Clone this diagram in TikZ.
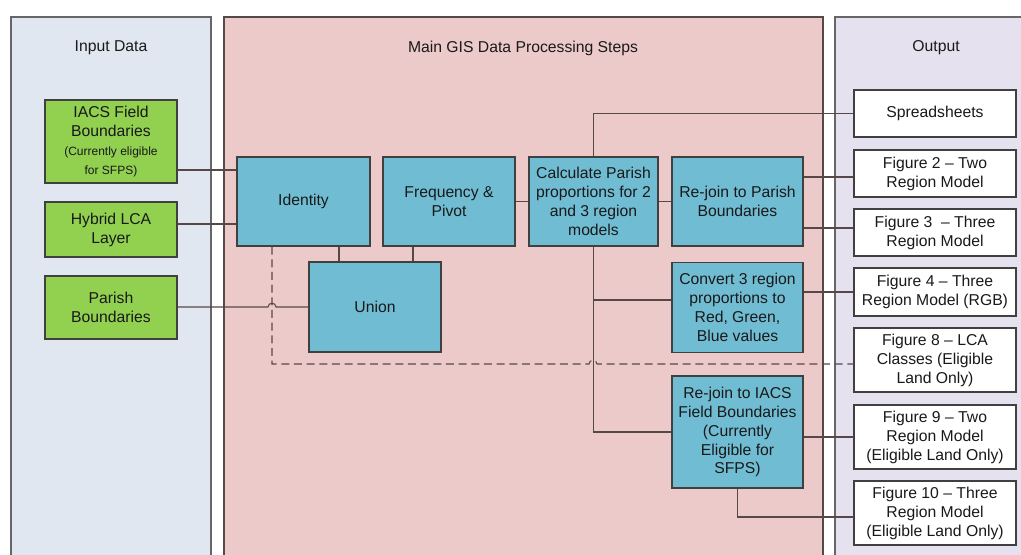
\documentclass[tikz,border=0pt]{standalone}
\usepackage{fontspec}
\setmainfont{Liberation Sans}

\definecolor{inputbg}{HTML}{E1E7F0}
\definecolor{mainbg}{HTML}{EDCACA}
\definecolor{outbg}{HTML}{E6E1EF}
\definecolor{datagreen}{HTML}{92D050}
\definecolor{stepblue}{HTML}{70BDD3}
\definecolor{edgegray}{HTML}{404040}
\definecolor{linegray}{HTML}{574848}

\tikzset{
  sz/.style 2 args={minimum width=#1*0.75pt, minimum height=#2*0.75pt},
  box/.style={draw=edgegray, line width=0.9pt, inner sep=0pt, align=center,
              font=\fontsize{11.8}{14.2}\selectfont, text=black!90},
  inbox/.style={box, fill=datagreen},
  stepbox/.style={box, fill=stepblue},
  outbox/.style={box, fill=white},
  link/.style={draw=linegray, line width=0.8pt},
  panel/.style={line width=1pt},
  title/.style={font=\fontsize{11.8}{14.2}\selectfont, text=black!90},
  small/.style={font=\fontsize{10}{13.7}\selectfont}
}

\begin{document}
\begin{tikzpicture}[x=0.75pt,y=-0.75pt]

				\useasboundingbox (0,0) rectangle (1021,554);
				
				% panels
				\fill[white] (0,0) rectangle (1021,554);
				\fill[inputbg] (11,17) rectangle (211,600);
				\fill[mainbg] (224,17) rectangle (823,600);
				\fill[outbg] (835,17) rectangle (1040,600);
				\draw[panel, draw=gray!80!black] (11,600) -- (11,17) -- (211,17) -- (211,600);
				\draw[panel, draw=linegray] (224,600) -- (224,17) -- (823,17) -- (823,600);
				\draw[panel, draw=gray!80!black] (835,600) -- (835,17) -- (1040,17);
				
				\node[title] (inTitle) at (111,48) {Input Data};
				\node[title] (mainTitle) at (523,48) {Main GIS Data Processing Steps};
				\node[title] (outTitle) at (936,48) {Output};
				
				% input data
				\node[inbox, sz={132}{83}] (iacs) at (111,141.5) {IACS Field\\Boundaries\\{\small(Currently eligible}\\{\small for SFPS)}};
				\node[inbox, sz={132}{55}] (hybrid) at (111,229.5) {Hybrid LCA\\Layer};
				\node[inbox, sz={132}{63}] (parish) at (111,307.5) {Parish\\Boundaries};
				
				% processing steps
				\node[stepbox, sz={133}{89}] (identity) at (303.5,201.5) {Identity};
				\node[stepbox, sz={132}{89}] (freq) at (449,201.5) {Frequency \&\\Pivot};
				\node[stepbox, sz={132}{90}] (union) at (375,307) {Union};
				\node[stepbox, sz={129}{89}] (calc) at (593.5,201.5) {Calculate Parish\\proportions for 2\\and 3 region\\models};
				\node[stepbox, sz={131}{89}] (rejoinP) at (737.5,201.5) {Re-join to Parish\\Boundaries};
				\node[stepbox, sz={131}{90}] (convert) at (737.5,307.5) {Convert 3 region\\proportions to\\Red, Green,\\Blue values};
				\node[stepbox, sz={131}{112}] (rejoinI) at (737.5,432) {Re-join to IACS\\Field Boundaries\\(Currently\\Eligible for\\SFPS)};
				
				% outputs
				\node[outbox, sz={162}{47}] (sheets) at (935,113.5) {Spreadsheets};
				\node[outbox, sz={162}{47}] (fig2) at (935,173.5) {Figure 2 -- Two\\Region Model};
				\node[outbox, sz={162}{47}] (fig3) at (935,232.5) {Figure 3\ \ -- Three\\Region Model};
				\node[outbox, sz={162}{48}] (fig4) at (935,292) {Figure 4 -- Three\\Region Model (RGB)};
				\node[outbox, sz={162}{64}] (fig8) at (935,360) {Figure 8 -- LCA\\Classes (Eligible\\Land Only)};
				\node[outbox, sz={162}{64}] (fig9) at (935,437) {Figure 9 -- Two\\Region Model\\(Eligible Land Only)};
				\node[outbox, sz={162}{64}] (fig10) at (935,513) {Figure 10 -- Three\\Region Model\\(Eligible Land Only)};
				
				% inputs to first steps
				\draw[link] (iacs.east |- 0,170) -- (identity.west |- 0,170);
				\draw[link] (hybrid.east |- 0,224) -- (identity.west |- 0,224);
				\draw[link] (parish.east |- 0,307) -- (268,307) .. controls (268,302) and (276,302) .. (276,307) -- (union.west);
				\draw[link] (identity.south -| 339,0) -- (union.north -| 339,0);
				\draw[link] (freq.south -| 413,0) -- (union.north -| 413,0);
				\draw[link] (freq) -- (calc);
				\draw[link] (calc) -- (rejoinP);
				
				% branches from the parish proportions
				\draw[link] (calc.north) |- (sheets.west);
				\draw[link] (calc.south) |- (rejoinI.west);
				\draw[link] (calc.south |- 0,300) -- (convert.west |- 0,300);
				
				% to outputs
				\draw[link] (rejoinP.east |- 0,177) -- (fig2.west |- 0,177);
				\draw[link] (rejoinP.east |- 0,228) -- (fig3.west |- 0,228);
				\draw[link] (convert.east |- fig4) -- (fig4.west);
				\draw[link] (rejoinI.east |- fig9) -- (fig9.west);
				\draw[link] (rejoinI.south) |- (fig10.west |- 0,517);
				
				% dashed link to figure 8
				\draw[link, dash pattern=on 6pt off 3.5pt] (identity.south -| 272,0) -- (272,364) -- (589,364) .. controls (589,359) and (597,359) .. (597,364) -- (fig8.west |- 0,364);
				
			\end{tikzpicture}
\end{document}
